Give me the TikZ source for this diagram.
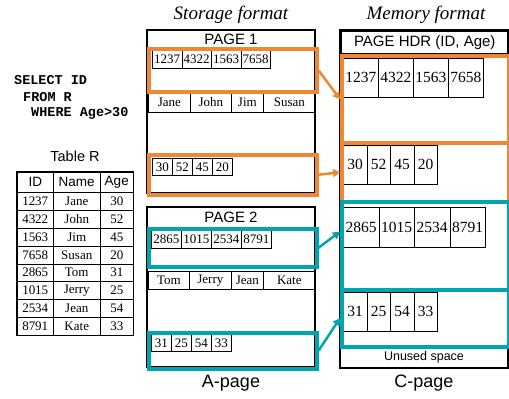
\documentclass[tikz,border=0pt]{standalone}
\usepackage{fontspec}
\setmainfont{Liberation Serif}
\setsansfont{Liberation Sans}
\setmonofont{Liberation Mono}
\usetikzlibrary{arrows.meta}

\definecolor{pageorange}{RGB}{240,135,50}
\definecolor{pageteal}{RGB}{0,165,175}

\tikzset{
  cell/.style={draw, line width=0.7pt, inner sep=0pt, anchor=north west, font=\fontsize{13}{15}\selectfont},
  mcell/.style={cell, font=\fontsize{15.5}{17}\selectfont},
  tcell/.style={draw, line width=0.5pt, inner sep=0pt, font=\fontsize{13}{15}\selectfont},
  thead/.style={tcell, font=\sffamily\fontsize{13.5}{15}\selectfont},
  grp/.style={draw, line width=3.5pt, inner sep=0pt, anchor=north west},
  link/.style={line width=2.5pt, -{Triangle[length=7pt,width=8pt]}},
  title/.style={font=\itshape\fontsize{19}{21}\selectfont},
  label/.style={font=\sffamily\fontsize{15}{17}\selectfont},
  sql/.style={anchor=west, inner sep=0pt, font=\ttfamily\bfseries\fontsize{13.5}{15}\selectfont}
}

\begin{document}
\begin{tikzpicture}[x=1pt,y=-1pt]
    \useasboundingbox (0,0) rectangle (509,399);
    % Draw the query.
    \node[sql] (q1) at (14,80) {SELECT ID};
    \node[sql] (q2) at (23,97) {FROM R};
    \node[sql] (q3) at (31,113) {WHERE Age>30};
    % Draw the table.
    \node[font=\sffamily\fontsize{14.5}{16}\selectfont] (tname) at (75,156) {Table R};
    \node[thead, minimum width=36pt, minimum height=20pt, anchor=north west] (hid) at (17,172) {ID};
    \node[thead, minimum width=47pt, minimum height=20pt, anchor=north west] (hname) at (53,172) {Name};
    \node[thead, minimum width=33pt, minimum height=20pt, anchor=north west] (hage) at (100,172) {Age};
    \foreach \id/\nm/\ag [count=\i] in {1237/Jane/30, 4322/John/52, 1563/Jim/45, 7658/Susan/20,
                                       2865/Tom/31, 1015/Jerry/25, 2534/Jean/54, 8791/Kate/33} {
      \node[tcell, minimum width=36pt, minimum height=17.875pt, anchor=north west] (tid\i) at (17,{192+17.875*(\i-1)}) {\id};
      \node[tcell, minimum width=47pt, minimum height=17.875pt, anchor=north west] (tnm\i) at (53,{192+17.875*(\i-1)}) {\nm};
      \node[tcell, minimum width=33pt, minimum height=17.875pt, anchor=north west] (tag\i) at (100,{192+17.875*(\i-1)}) {\ag};
    }
    \draw[line width=1.5pt] (hid.north west) rectangle (tag8.south east);
    % Draw the A-pages (storage format).
    \node[title] (stor) at (231,15) {Storage format};
    \draw[line width=1.5pt] (147,30) rectangle (315,193);
    \node[label] (p1) at (231,39) {PAGE 1};
    \draw[line width=1.5pt] (147,207) rectangle (315,367);
    \node[label] (p2) at (231,217) {PAGE 2};
    \foreach \v [count=\i] in {1237,4322,1563,7658}
      \node[cell, minimum width=29.5pt, minimum height=18pt] (a1id\i) at ({152+29.5*(\i-1)},50) {\v};
    \foreach \v [count=\i] in {2865,1015,2534,8791}
      \node[cell, minimum width=30pt, minimum height=18pt] (a2id\i) at ({151+30*(\i-1)},230) {\v};
    \foreach \v/\x/\w [count=\i] in {Jane/148/42, John/190/41, Jim/231/32, Susan/263/52}
      \node[cell, minimum width=\w pt, minimum height=20pt] (a1nm\i) at (\x,92) {\v};
    \foreach \v/\x/\w [count=\i] in {Tom/148/41, Jerry/189/42, Jean/231/32, Kate/263/52}
      \node[cell, minimum width=\w pt, minimum height=18pt] (a2nm\i) at (\x,271) {\v};
    \foreach \v [count=\i] in {30,52,45,20}
      \node[cell, minimum width=20pt, minimum height=17pt] (a1ag\i) at ({152+20*(\i-1)},158) {\v};
    \foreach \v [count=\i] in {31,25,54,33}
      \node[cell, minimum width=20pt, minimum height=17pt] (a2ag\i) at ({151+20*(\i-1)},334) {\v};
    \node[label, font=\sffamily\fontsize{18}{20}\selectfont] (apage) at (231,383) {A-page};
    % Draw the C-page (memory format).
    \node[title] (mem) at (426,15) {Memory format};
    \draw[line width=1.5pt] (340,30) rectangle (508,368);
    \node[draw, line width=1.5pt, minimum width=168pt, minimum height=23pt, inner sep=0pt, anchor=north west,
          font=\sffamily\fontsize{15}{17}\selectfont] (hdr) at (340,30) {PAGE HDR (ID, Age)};
    \foreach \v [count=\i] in {1237,4322,1563,7658}
      \node[mcell, minimum width=35pt, minimum height=39pt] (m1id\i) at ({343+35*(\i-1)},58) {\v};
    \foreach \v [count=\i] in {30,52,45,20}
      \node[mcell, minimum width=23.5pt, minimum height=39pt] (m1ag\i) at ({343+23.5*(\i-1)},145) {\v};
    \foreach \v [count=\i] in {2865,1015,2534,8791}
      \node[mcell, minimum width=35.5pt, minimum height=40pt] (m2id\i) at ({343+35.5*(\i-1)},207) {\v};
    \foreach \v [count=\i] in {31,25,54,33}
      \node[mcell, minimum width=23.5pt, minimum height=39pt] (m2ag\i) at ({343+23.5*(\i-1)},292) {\v};
    \node[font=\sffamily\fontsize{12.5}{14}\selectfont] (unused) at (424,357) {Unused space};
    \node[label, font=\sffamily\fontsize{18}{20}\selectfont] (cpage) at (424,383) {C-page};
    % Draw the column groups on both sides.
    \node[grp, draw=pageorange, minimum width=168pt, minimum height=43pt] (a1ids) at (147,47) {};
    \node[grp, draw=pageorange, minimum width=168pt, minimum height=40pt] (a1ages) at (147,153) {};
    \node[grp, draw=pageteal, minimum width=168pt, minimum height=38pt] (a2ids) at (147,227) {};
    \node[grp, draw=pageteal, minimum width=168pt, minimum height=36pt] (a2ages) at (147,331) {};
    \node[grp, draw=pageorange, minimum width=167pt, minimum height=87pt] (m1ids) at (340,54) {};
    \node[grp, draw=pageorange, minimum width=167pt, minimum height=59pt] (m1ages) at (340,141) {};
    \node[grp, draw=pageteal, minimum width=167pt, minimum height=88pt] (m2ids) at (340,200) {};
    \node[grp, draw=pageteal, minimum width=167pt, minimum height=57pt] (m2ages) at (340,288) {};
    % Draw the copies from storage to memory.
    \draw[link, pageorange] (a1ids.east) -- (m1ids.west);
    \draw[link, pageorange] (a1ages.east) -- (m1ages.west);
    \draw[link, pageteal] (a2ids.east) -- ([yshift=14pt]m2ids.west);
    \draw[link, pageteal] (a2ages.east) -- (m2ages.west);
\end{tikzpicture}
\end{document}
